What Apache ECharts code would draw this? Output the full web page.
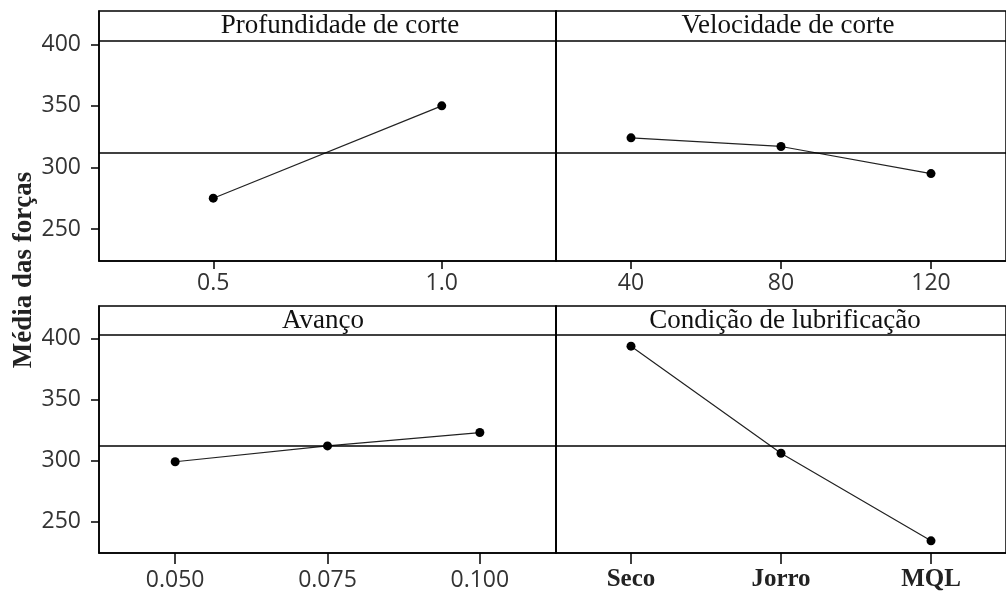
<!DOCTYPE html>
<html>
<head>
<meta charset="utf-8">
<script src="https://cdn.jsdelivr.net/npm/echarts@6/dist/echarts.min.js"></script>
<style>
  html, body { margin: 0; padding: 0; background: #fff; }
  #chart { width: 1006px; height: 594px; }
</style>
</head>
<body>
<div id="chart"></div>
<script>
// Main effects on mean cutting force
const depthLevels = ['0.5', '1.0'];
const depthMeans = [275, 350];

const speedLevels = ['40', '80', '120'];
const speedMeans = [324, 317, 295];

const feedLevels = ['0.050', '0.075', '0.100'];
const feedMeans = [299, 312, 323];

const lubeLevels = ['Seco', 'Jorro', 'MQL'];
const lubeMeans = [394, 306, 234];

const grandMean = 312;
const yTicks = [250, 300, 350, 400];
const yMin = 224;
const yMax = 427;
const headerValue = 403;   // lower edge of each panel's title strip

const panelTitles = ['Profundidade de corte', 'Velocidade de corte', 'Avanço', 'Condição de lubrificação'];
const yAxisTitle = 'Média das forças';

const panels = [
  { levels: depthLevels, means: depthMeans, grid: { left: 99, top: 11, width: 457, height: 250 }, yLabels: true,  tickLen: 8,  labelMargin: 11, bold: false, titleX: 340 },
  { levels: speedLevels, means: speedMeans, grid: { left: 556, top: 11, width: 458, height: 250 }, yLabels: false, tickLen: 8,  labelMargin: 11, bold: false, titleX: 788 },
  { levels: feedLevels,  means: feedMeans,  grid: { left: 99, top: 306, width: 457, height: 247 }, yLabels: true,  tickLen: 11, labelMargin: 16, bold: false, titleX: 323 },
  { levels: lubeLevels,  means: lubeMeans,  grid: { left: 556, top: 306, width: 458, height: 247 }, yLabels: false, tickLen: 11, labelMargin: 14, bold: true,  titleX: 785 }
];

const ink = '#111';
const sansFont = '"Open Sans", "Noto Sans", sans-serif';
const serifFont = '"Liberation Serif", "Times New Roman", serif';

const option = {
  animation: false,
  backgroundColor: '#fff',
  title: panels.map((p, i) => ({
    text: panelTitles[i],
    left: p.titleX,
    top: p.grid.top + 1,
    textAlign: 'center',
    padding: 0,
    textStyle: { fontFamily: serifFont, fontSize: 27, fontWeight: 'normal', color: ink }
  })),
  grid: panels.map(p => Object.assign({
    show: true, borderColor: '#000', borderWidth: 1.5, backgroundColor: 'transparent', containLabel: false
  }, p.grid)),
  xAxis: panels.map((p, i) => ({
    type: 'category',
    gridIndex: i,
    data: p.levels,
    boundaryGap: true,
    axisLine: { show: true, lineStyle: { color: '#000', width: 1.5 } },
    axisTick: { show: true, alignWithLabel: true, length: p.tickLen, lineStyle: { color: '#000', width: 1.5 } },
    axisLabel: p.bold
      ? { margin: p.labelMargin, fontFamily: serifFont, fontWeight: 'bold', fontSize: 25, color: '#222' }
      : { margin: p.labelMargin, fontFamily: sansFont, fontSize: 23, color: '#333' },
    splitLine: { show: false }
  })),
  yAxis: panels.map((p, i) => ({
    type: 'value',
    gridIndex: i,
    min: yMin,
    max: yMax,
    axisLine: { show: true, lineStyle: { color: '#000', width: 1.5 } },
    axisTick: { show: p.yLabels, customValues: yTicks, length: 8, lineStyle: { color: '#000', width: 1.5 } },
    axisLabel: { show: p.yLabels, customValues: yTicks, margin: 18, fontFamily: sansFont, fontSize: 23, color: '#333' },
    splitLine: { show: false }
  })),
  series: panels.map((p, i) => ({
    type: 'line',
    xAxisIndex: i,
    yAxisIndex: i,
    data: p.means,
    symbol: 'circle',
    symbolSize: 9,
    itemStyle: { color: '#000' },
    lineStyle: { color: '#222', width: 1.2 },
    markLine: {
      silent: true,
      symbol: ['none', 'none'],
      label: { show: false },
      lineStyle: { color: '#000', width: 1.5, type: 'solid' },
      data: [{ yAxis: headerValue }, { yAxis: grandMean }]
    }
  })),
  graphic: [{
    type: 'text',
    x: 24,
    y: 270,
    rotation: Math.PI / 2,
    style: {
      text: yAxisTitle,
      font: 'bold 27px ' + serifFont,
      fill: '#222',
      align: 'center',
      verticalAlign: 'middle'
    }
  }]
};

const chart = echarts.init(document.getElementById('chart'), null, { renderer: 'canvas' });
chart.setOption(option);
</script>
</body>
</html>
